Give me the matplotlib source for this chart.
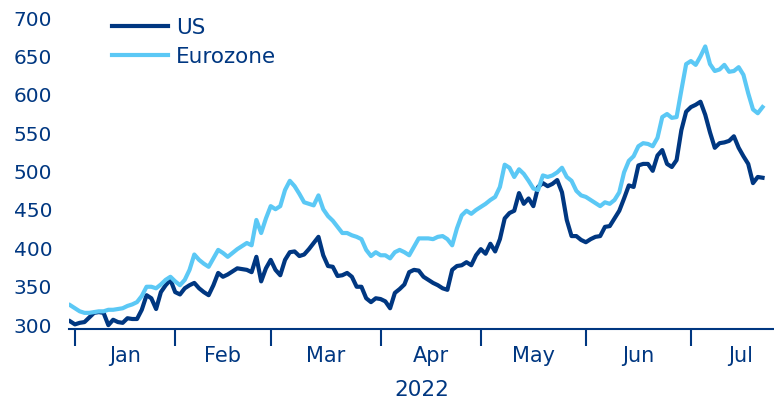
import pandas as pd
import matplotlib.pyplot as plt

plt.rcParams["font.family"] = ["DejaVu Sans"]

# Weekday dates, 31 Dec 2021 to 22 Jul 2022
dates = pd.bdate_range("2021-12-31", "2022-07-22")

us = [
    305, 301, 303, 304, 310, 316, 317, 316, 300, 307,
    304, 303, 309, 308, 308, 320, 339, 335, 321, 343,
    352, 359, 343, 340, 348, 352, 355, 348, 343, 339,
    352, 368, 363, 366, 370, 374, 373, 372, 369, 389,
    357, 374, 385, 372, 365, 385, 395, 396, 390, 392,
    399, 407, 415, 391, 377, 376, 364, 365, 368, 363,
    350, 350, 335, 330, 335, 334, 331, 322, 342, 347,
    353, 369, 372, 371, 363, 359, 355, 352, 348, 346,
    372, 377, 378, 382, 378, 391, 399, 393, 406, 396,
    412, 439, 446, 449, 472, 458, 465, 455, 480, 485,
    481, 484, 489, 473, 437, 416, 416, 411, 408, 412,
    415, 416, 428, 429, 439, 449, 465, 482, 480, 508,
    510, 510, 501, 521, 528, 510, 506, 515, 554, 578,
    584, 587, 591, 574, 551, 531, 537, 538, 540, 546,
    531, 520, 510, 485, 493, 492,
]

eurozone = [
    326, 322, 318, 316, 316, 317, 318, 318, 320, 320,
    321, 322, 325, 327, 330, 338, 350, 350, 348, 353,
    359, 363, 357, 352, 359, 372, 392, 385, 380, 376,
    387, 398, 394, 389, 394, 399, 403, 407, 404, 437,
    420, 439, 455, 451, 455, 476, 488, 481, 471, 460,
    458, 456, 469, 451, 442, 436, 428, 420, 420, 417,
    415, 412, 398, 390, 395, 391, 391, 387, 395, 398,
    395, 391, 402, 413, 413, 413, 412, 415, 416, 412,
    404, 426, 443, 449, 445, 450, 454, 458, 463, 467,
    480, 509, 505, 493, 503, 497, 488, 478, 476, 495,
    493, 495, 499, 505, 493, 488, 475, 469, 467, 463,
    459, 455, 460, 458, 463, 473, 499, 514, 520, 533,
    537, 536, 533, 544, 571, 575, 570, 571, 606, 640,
    644, 639, 650, 663, 640, 631, 633, 639, 630, 631,
    636, 626, 602, 581, 576, 584,
]

months = ["Jan", "Feb", "Mar", "Apr", "May", "Jun", "Jul"]

navy = "#003781"
light = "#5bc8f5"

x = list(range(len(dates)))

fig = plt.figure(figsize=(7.74, 4.01), dpi=100)
ax = fig.add_axes([0.0891, 0.1796, 0.9109, 0.785])

ax.plot(x, us, color=navy, lw=3.0, label="US", solid_joinstyle="round")
ax.plot(x, eurozone, color=light, lw=3.0, label="Eurozone", solid_joinstyle="round")

ax.set_ylim(295, 705)
ax.set_xlim(-0.25, 147.4)
ax.set_yticks(range(300, 701, 50))

# month boundaries = first weekday of each month
starts = [x[i] for i in range(1, len(dates)) if dates[i].month != dates[i - 1].month]
ends = starts[1:] + [len(dates) + 5]
ax.set_xticks(starts)
ax.set_xticklabels([])
ax.set_xticks([(a + b) / 2 for a, b in zip(starts, ends)], minor=True)
ax.set_xticklabels(months, minor=True)

ax.tick_params(axis="x", which="major", length=12, width=1.5, color=navy)
ax.tick_params(axis="x", which="minor", length=0, pad=12, labelsize=15, labelcolor=navy)
ax.tick_params(axis="y", length=0, pad=12, labelsize=14.5, labelcolor=navy)

for s in ["top", "right", "left"]:
    ax.spines[s].set_visible(False)
ax.spines["bottom"].set_color(navy)
ax.spines["bottom"].set_linewidth(1.5)

fig.text(0.5455, 0.027, "2022", ha="center", va="center", fontsize=15.5, color=navy)

leg = ax.legend(loc="upper left", bbox_to_anchor=(0.033, 1.05), frameon=False,
                fontsize=15.5, handlelength=2.6, handletextpad=0.4, labelspacing=0.42)
for t in leg.get_texts():
    t.set_color(navy)

plt.savefig("out.png", dpi=100)
